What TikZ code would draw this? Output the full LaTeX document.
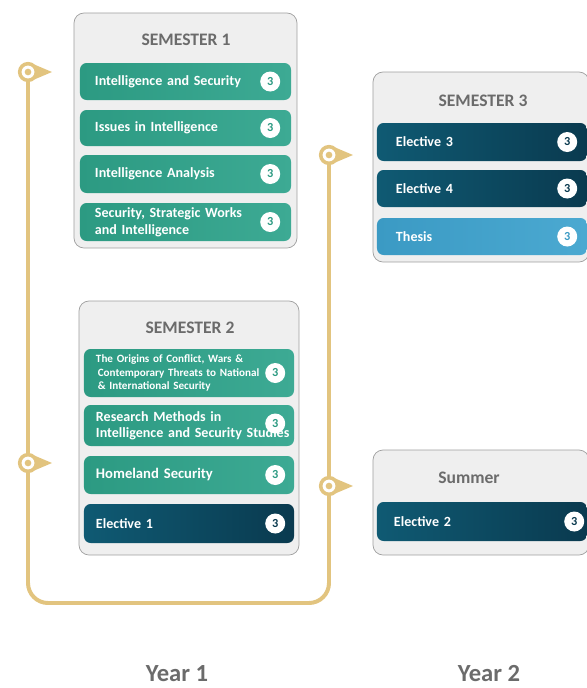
\documentclass[tikz,border=0pt]{standalone}
\usepackage{fontspec}
\setmainfont{Carlito}
\usetikzlibrary{positioning,backgrounds}
\definecolor{tealA}{HTML}{2C9A82}
\definecolor{tealB}{HTML}{3DAA94}
\definecolor{navyA}{HTML}{0F5A73}
\definecolor{navyB}{HTML}{0A3A4F}
\definecolor{skyA}{HTML}{3B9AC4}
\definecolor{skyB}{HTML}{4BA9D1}
\definecolor{gold}{HTML}{E2C47F}
\definecolor{boxgray}{HTML}{EFEFEF}
\definecolor{titlegray}{HTML}{6B6B6B}

\begin{document}
\begin{tikzpicture}[x=0.03cm, y=-0.03cm]
            \tikzstyle{term} = [draw=gray!75, fill=boxgray, rounded corners=0.3cm, line width=0.6pt]
            \tikzstyle{head} = [text=titlegray, font=\bfseries\fontsize{15}{17}\selectfont]
            \tikzstyle{course} = [rounded corners=0.2cm, text=white, align=left, inner ysep=0pt, font=\bfseries\fontsize{12}{14.5}\selectfont]
            \tikzstyle{core} = [course, left color=tealA, right color=tealB]
            \tikzstyle{elective} = [course, left color=navyA, right color=navyB]
            \tikzstyle{thesis} = [course, left color=skyA, right color=skyB]
            \tikzstyle{credit} = [circle, fill=white, inner sep=0pt, minimum size=0.6cm, font=\bfseries\fontsize{10.5}{10.5}\selectfont]
            \tikzstyle{marker} = [circle, draw=gold, fill=white, line width=3pt, inner sep=0pt, minimum size=0.5cm, path picture={\fill[gold] (path picture bounding box.center) circle (0.1cm);}]
            \tikzstyle{track} = [draw=gold, line width=3.4pt, rounded corners=0.6cm]
            \tikzstyle{year} = [text=titlegray, anchor=base, inner sep=0pt, text depth=0pt, font=\bfseries\fontsize{21}{24}\selectfont]

            \useasboundingbox (0,0) rectangle (587,688);

            % Semester 1
            \node[term, minimum width=6.69cm, minimum height=7.05cm] (S1) at (185.5,130.5) {};
            \node[head] (h1) at (186,40) {SEMESTER 1};
            \node[core, text width=5.43cm, inner xsep=0.45cm, minimum height=1.11cm] (c11) at (185.5,81.5) {Intelligence and Security};
            \node[core, text width=5.43cm, inner xsep=0.45cm, minimum height=1.08cm] (c12) at (185.5,128) {Issues in Intelligence};
            \node[core, text width=5.43cm, inner xsep=0.45cm, minimum height=1.14cm] (c13) at (185.5,174) {Intelligence Analysis};
            \node[core, text width=5.43cm, inner xsep=0.45cm, minimum height=1.14cm] (c14) at (185.5,222) {Security, Strategic Works\\and Intelligence};
            \node[credit, text=tealA] (n11) at ([xshift=-0.63cm]c11.east) {3};
            \node[credit, text=tealA] (n12) at ([xshift=-0.63cm]c12.east) {3};
            \node[credit, text=tealA] (n13) at ([xshift=-0.63cm]c13.east) {3};
            \node[credit, text=tealA] (n14) at ([xshift=-0.63cm]c14.east) {3};

            % Semester 2
            \node[term, minimum width=6.6cm, minimum height=7.62cm] (S2) at (189,428) {};
            \node[head] (h2) at (190,328) {SEMESTER 2};
            \node[core, text width=5.58cm, inner xsep=0.36cm, minimum height=1.44cm, font=\bfseries\fontsize{9.5}{11.5}\selectfont] (c21) at (189,373) {The Origins of Conflict, Wars \&\\ \,Contemporary Threats to National\\ \,\& International Security};
            \node[core, text width=5.58cm, inner xsep=0.36cm, minimum height=1.23cm, font=\bfseries\fontsize{12}{13.6}\selectfont] (c22) at (189,425.5) {Research Methods in\\\mbox{Intelligence and Security Studies}};
            \node[core, text width=5.58cm, inner xsep=0.36cm, minimum height=1.14cm, font=\bfseries\fontsize{12.5}{14}\selectfont] (c23) at (189,475) {Homeland Security};
            \node[elective, text width=5.58cm, inner xsep=0.36cm, minimum height=1.17cm] (c24) at (189,523.5) {Elective 1};
            \node[credit, text=tealA] (n21) at ([xshift=-0.57cm]c21.east) {3};
            \node[credit, text=tealA] (n22) at ([xshift=-0.57cm, yshift=0.06cm]c22.east) {3};
            \node[credit, text=tealA] (n23) at ([xshift=-0.57cm]c23.east) {3};
            \node[credit, text=navyB] (n24) at ([xshift=-0.57cm]c24.east) {3};

            % Semester 3
            \node[term, minimum width=6.48cm, minimum height=5.7cm] (S3) at (481,167) {};
            \node[head] (h3) at (483,101) {SEMESTER 3};
            \node[elective, text width=5.16cm, inner xsep=0.57cm, minimum height=1.14cm] (c31) at (482,142) {Elective 3};
            \node[elective, text width=5.16cm, inner xsep=0.57cm, minimum height=1.11cm] (c32) at (482,188.5) {Elective 4};
            \node[thesis, text width=5.16cm, inner xsep=0.57cm, minimum height=1.11cm] (c33) at (482,236.5) {Thesis};
            \node[credit, text=navyB] (n31) at ([xshift=-0.6cm]c31.east) {3};
            \node[credit, text=navyB] (n32) at ([xshift=-0.6cm]c32.east) {3};
            \node[credit, text=skyA] (n33) at ([xshift=-0.6cm]c33.east) {3};

            % Summer
            \node[term, minimum width=6.48cm, minimum height=3.15cm] (S4) at (481,502.5) {};
            \node[head] (h4) at (469,478) {Summer};
            \node[elective, text width=5.28cm, inner xsep=0.51cm, minimum height=1.17cm] (c41) at (482,521.5) {Elective 2};
            \node[credit, text=navyB] (n41) at ([xshift=-0.39cm]c41.east) {3};

            % Timeline
            \node[marker] (mk1) at (28,72) {};
            \node[marker] (mk2) at (28,463) {};
            \node[marker] (mk3) at (329,155) {};
            \node[marker] (mk4) at (329,486) {};
            \fill[gold] (mk1.45) -- ([xshift=0.72cm]mk1.center) -- (mk1.-45) -- cycle;
            \fill[gold] (mk2.45) -- ([xshift=0.72cm]mk2.center) -- (mk2.-45) -- cycle;
            \fill[gold] (mk3.45) -- ([xshift=0.72cm]mk3.center) -- (mk3.-45) -- cycle;
            \fill[gold] (mk4.45) -- ([xshift=0.72cm]mk4.center) -- (mk4.-45) -- cycle;
            \coordinate (turn) at (180,603);
            \begin{scope}[on background layer]
                \draw[track] (mk1) |- (turn) -| (mk3);
            \end{scope}

            % Years
            \node[year] (y1) at (177,681) {Year 1};
            \node[year] (y2) at (489,681) {Year 2};

        \end{tikzpicture}
\end{document}
